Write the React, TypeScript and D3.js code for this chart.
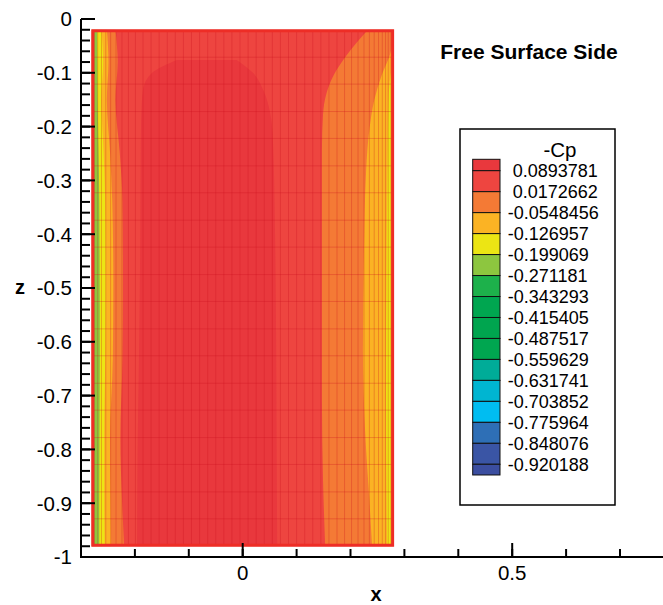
import React from "react";
import * as d3 from "d3";

// ---------- data ----------
const legendLevels = [0.0893781, 0.0172662, -0.0548456, -0.126957, -0.199069, -0.271181, -0.343293, -0.415405, -0.487517, -0.559629, -0.631741, -0.703852, -0.775964, -0.848076, -0.920188];
const legendLabels = ["0.0893781", "0.0172662", "-0.0548456", "-0.126957", "-0.199069", "-0.271181", "-0.343293", "-0.415405", "-0.487517", "-0.559629", "-0.631741", "-0.703852", "-0.775964", "-0.848076", "-0.920188"];
const bandColors = ["#e9383d", "#ee4540", "#f47a35", "#fbb324", "#ece514", "#8dc63f", "#1db14b", "#00a650", "#00a54f", "#00a650", "#00ac98", "#00b5d1", "#00bdf1", "#2e6fb6", "#3a55a5", "#3b4ea0"];

const yTickValues = [0, -0.1, -0.2, -0.3, -0.4, -0.5, -0.6, -0.7, -0.8, -0.9, -1];
const yTickLabels = ["0", "-0.1", "-0.2", "-0.3", "-0.4", "-0.5", "-0.6", "-0.7", "-0.8", "-0.9", "-1"];
const xTickValues = [0, 0.5];
const xTickLabels = ["0", "0.5"];

// surface extent (x, z)
const surfX = [-0.28, 0.28];
const surfZ = [-0.02, -0.98];

// central region (band 0): [z, xLeft, xRight]
const centralRegion: [number, number, number][] = [
  [-0.076, -0.122, -0.011], [-0.1, -0.168, 0.019], [-0.132, -0.185, 0.038], [-0.175, -0.188, 0.051],
  [-0.225, -0.189, 0.056], [-0.4, -0.19, 0.06], [-0.6, -0.192, 0.062], [-0.8, -0.195, 0.063], [-0.98, -0.196, 0.064],
];
// right side boundaries: [z, x] (band extends from boundary to right edge)
const rightOrange: [number, number][] = [[-0.02, 0.2325], [-0.043, 0.212], [-0.071, 0.19], [-0.104, 0.169], [-0.136, 0.156], [-0.178, 0.149], [-0.243, 0.147], [-0.43, 0.147], [-0.708, 0.147], [-0.857, 0.149], [-0.98, 0.153]];
const rightYellowOrange: [number, number][] = [[-0.035, 0.28], [-0.067, 0.273], [-0.104, 0.258], [-0.151, 0.244], [-0.206, 0.235], [-0.281, 0.229], [-0.429, 0.225], [-0.615, 0.223], [-0.764, 0.227], [-0.894, 0.235], [-0.98, 0.24]];
const rightYellow: [number, number][] = [[-0.07, 0.28], [-0.14, 0.271], [-0.336, 0.268], [-0.708, 0.266], [-0.98, 0.268]];
// left side boundaries: [z, x] (band extends from left edge to boundary)
const leftOrange: [number, number][] = [[-0.02, -0.236], [-0.08, -0.232], [-0.15, -0.236], [-0.25, -0.228], [-0.34, -0.223], [-0.49, -0.222], [-0.63, -0.223], [-0.78, -0.227], [-0.89, -0.224], [-0.98, -0.22]];
const leftYellowOrange: [number, number][] = [[-0.02, -0.252], [-0.08, -0.249], [-0.15, -0.252], [-0.25, -0.246], [-0.34, -0.242], [-0.49, -0.24], [-0.63, -0.241], [-0.78, -0.246], [-0.89, -0.245], [-0.98, -0.244]];
const leftYellow: [number, number][] = [[-0.02, -0.262], [-0.08, -0.259], [-0.15, -0.262], [-0.25, -0.258], [-0.34, -0.255], [-0.49, -0.254], [-0.63, -0.255], [-0.78, -0.257], [-0.89, -0.257], [-0.98, -0.256]];
const leftGreen: [number, number][] = [[-0.02, -0.27], [-0.15, -0.269], [-0.34, -0.266], [-0.63, -0.265], [-0.89, -0.266], [-0.98, -0.266]];

// surface mesh
const meshX = [-0.28, -0.275, -0.269, -0.262, -0.254, -0.245, -0.235, -0.224, -0.212, -0.199, -0.185, -0.17, -0.155, -0.14, -0.125, -0.11, -0.095, -0.08, -0.065, -0.05, -0.035, -0.02, -0.005, 0.01, 0.025, 0.04, 0.055, 0.07, 0.085, 0.1, 0.115, 0.13, 0.145, 0.16, 0.175, 0.189, 0.202, 0.214, 0.225, 0.235, 0.244, 0.252, 0.259, 0.265, 0.27, 0.275, 0.28];
const meshZ = [-0.02, -0.071, -0.121, -0.172, -0.222, -0.273, -0.323, -0.374, -0.424, -0.475, -0.525, -0.576, -0.626, -0.677, -0.727, -0.778, -0.828, -0.879, -0.929, -0.98];

const FONT = "'Liberation Sans', Arial, Helvetica, sans-serif";

export default function App() {
  const x = d3.scaleLinear().domain([-0.3, 0.8]).range([81, 81 + 1.1 * 539]);
  const y = d3.scaleLinear().domain([0, -1]).range([19, 557]);

  const rightArea = d3.area<[number, number]>()
    .y((d) => y(d[0])).x0(x(surfX[1])).x1((d) => x(d[1])).curve(d3.curveMonotoneY);
  const leftArea = d3.area<[number, number]>()
    .y((d) => y(d[0])).x0(x(surfX[0])).x1((d) => x(d[1])).curve(d3.curveMonotoneY);
  const centralArea = d3.area<[number, number, number]>()
    .y((d) => y(d[0])).x0((d) => x(d[1])).x1((d) => x(d[2])).curve(d3.curveMonotoneY);

  const sx0 = x(surfX[0]), sx1 = x(surfX[1]), sy0 = y(surfZ[0]), sy1 = y(surfZ[1]);

  const xMinor = x.ticks(11);
  const yMinor = y.ticks(50);

  // legend layout
  const lgX = 460, lgY = 129, lgW = 155, lgH = 376;
  const swX = 472.7, swW = 27.3;
  const lvlY = (i: number) => 170.7 + i * 20.97;
  const bandTop = (k: number) => (k === 0 ? lvlY(0) - 11.4 : lvlY(k - 1));
  const bandBot = (k: number) => (k === bandColors.length - 1 ? lvlY(legendLevels.length - 1) + 10.7 : lvlY(k));

  return (
    <svg width={663} height={605} style={{ position: "absolute", left: 0, top: 0, display: "block", background: "#fff" }} fontFamily={FONT}>
      <defs>
        <clipPath id="surf">
          <rect x={sx0} y={sy0} width={sx1 - sx0} height={sy1 - sy0} />
        </clipPath>
      </defs>
      {/* contour surface */}
      <g clipPath="url(#surf)">
        <rect x={sx0} y={sy0} width={sx1 - sx0} height={sy1 - sy0} fill={bandColors[1]} />
        <path d={centralArea(centralRegion) || ""} fill={bandColors[0]} />
        <path d={rightArea(rightOrange) || ""} fill={bandColors[2]} />
        <path d={rightArea(rightYellowOrange) || ""} fill={bandColors[3]} />
        <path d={rightArea(rightYellow) || ""} fill={bandColors[4]} />
        <path d={leftArea(leftOrange) || ""} fill={bandColors[2]} />
        <path d={leftArea(leftYellowOrange) || ""} fill={bandColors[3]} />
        <path d={leftArea(leftYellow) || ""} fill={bandColors[4]} />
        <path d={leftArea(leftGreen) || ""} fill={bandColors[5]} />
        <g stroke="#c8101c" strokeOpacity={0.28} strokeWidth={1}>
          {meshX.map((v, i) => (
            <line key={"mx" + i} x1={x(v)} x2={x(v)} y1={sy0} y2={sy1} />
          ))}
          {meshZ.map((v, i) => (
            <line key={"mz" + i} x1={sx0} x2={sx1} y1={y(v)} y2={y(v)} />
          ))}
        </g>
      </g>
      <rect x={sx0 + 1} y={sy0 + 1} width={sx1 - sx0 - 2} height={sy1 - sy0 - 2} fill="none" stroke="#ee2d26" strokeWidth={3} />

      {/* axes */}
      <g stroke="#000" strokeWidth={2}>
        <line x1={x(-0.3)} x2={x(-0.3)} y1={y(0)} y2={y(-1) + 1} />
        <line x1={x(-0.3) - 1} x2={x(0.8)} y1={y(-1)} y2={y(-1)} />
        {yMinor.map((v, i) => (
          <line key={"ym" + i} x1={x(-0.3)} x2={x(-0.3) + 9} y1={y(v)} y2={y(v)} />
        ))}
        {yTickValues.map((v, i) => (
          <line key={"yM" + i} x1={x(-0.3)} x2={x(-0.3) + 14} y1={y(v)} y2={y(v)} />
        ))}
        {xMinor.map((v, i) => (
          <line key={"xm" + i} x1={x(v)} x2={x(v)} y1={y(-1)} y2={y(-1) - 8} />
        ))}
        {xTickValues.map((v, i) => (
          <line key={"xM" + i} x1={x(v)} x2={x(v)} y1={y(-1)} y2={y(-1) - 14} />
        ))}
      </g>
      <g fontSize={20.5} fill="#000">
        {yTickValues.map((v, i) => (
          <text key={"yl" + i} x={72} y={y(v)} dy="0.36em" textAnchor="end">{yTickLabels[i]}</text>
        ))}
        {xTickValues.map((v, i) => (
          <text key={"xl" + i} x={x(v)} y={580} textAnchor="middle">{xTickLabels[i]}</text>
        ))}
      </g>
      <text x={376} y={601} fontSize={20} fontWeight="bold" textAnchor="middle">x</text>
      <text x={20} y={294} fontSize={20} fontWeight="bold" textAnchor="middle">z</text>

      {/* title */}
      <text x={529} y={59} fontSize={21} fontWeight="bold" textAnchor="middle">Free Surface Side</text>

      {/* legend */}
      <rect x={lgX} y={lgY} width={lgW} height={lgH} fill="#fff" stroke="#000" strokeWidth={1.5} />
      <text x={560} y={157} fontSize={20.5} textAnchor="middle">-Cp</text>
      {bandColors.map((c, k) => (
        <rect key={"sw" + k} x={swX} y={bandTop(k)} width={swW} height={bandBot(k) - bandTop(k)} fill={c} stroke="#111" strokeWidth={1} />
      ))}
      <g fontSize={18}>
        {legendLevels.map((v, i) => (
          <text key={"ll" + i} x={v < 0 ? 507.7 : 512.7} y={lvlY(i)} dy="0.36em">{legendLabels[i]}</text>
        ))}
      </g>
    </svg>
  );
}
